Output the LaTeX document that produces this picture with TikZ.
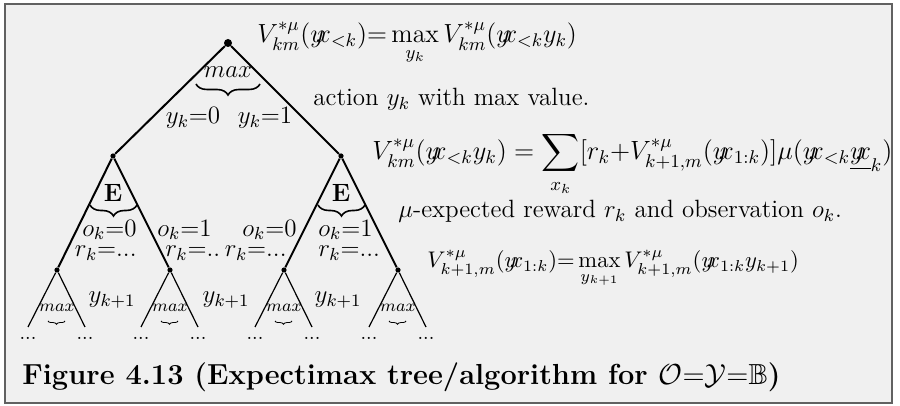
\RequirePackage{fix-cm}
\documentclass[tikz,border=0pt]{standalone}
\usepackage{amsmath,amssymb}
\usetikzlibrary{positioning,decorations.pathreplacing}

\newcommand{\yxhist}{y\mkern-5mu x}
\definecolor{slidebg}{gray}{0.94}
\definecolor{slideframe}{gray}{0.38}

\begin{document}
\begin{tikzpicture}[
    x=0.5pt, y=-0.5pt,
    every node/.style={font=\fontsize{12.5}{14}\selectfont, inner sep=0pt},
    dot/.style={circle, fill, inner sep=0pt, minimum size=2.6pt},
    bigedge/.style={line width=1pt},
    smalledge/.style={line width=0.6pt},
    tinylbl/.style={font=\fontsize{8.5}{9}\selectfont},
    dotslbl/.style={font=\fontsize{10}{11}\selectfont},
    brace/.style={decorate, decoration={brace, mirror, amplitude=5.5pt}, line width=0.8pt},
    smallbrace/.style={decorate, decoration={brace, mirror, amplitude=1.6pt}, line width=0.4pt},
    formula/.style={anchor=base west}
]
    \useasboundingbox (0,0) rectangle (900,406);
    \draw[fill=slidebg, draw=slideframe, line width=1pt] (5,4) rectangle (892,403);

    \node[dot, minimum size=4pt] (root) at (228,43) {};
    \node[dot] (e0) at (113,156) {};
    \node[dot] (e1) at (341,156) {};
    \node[dot] (m00) at (57,270) {};
    \node[dot] (m01) at (170,270) {};
    \node[dot] (m10) at (284,270) {};
    \node[dot] (m11) at (398,270) {};
    \draw[bigedge] (root) -- (e0);
    \draw[bigedge] (root) -- (e1);
    \draw[bigedge] (e0) -- (m00);
    \draw[bigedge] (e0) -- (m01);
    \draw[bigedge] (e1) -- (m10);
    \draw[bigedge] (e1) -- (m11);

    \foreach \m/\x in {m00/57, m01/170, m10/284, m11/398} {
        \coordinate (\m l) at (\x-29,327);
        \coordinate (\m r) at (\x+28,327);
        \draw[smalledge] (\m l) -- (\m) -- (\m r);
        \node[tinylbl] (\m max) at (\x,308) {$max$};
        \draw[smallbrace] (\x-9,321) -- (\x+8,321);
        \node[dotslbl] (\m ldots) at (\x-29,338) {...};
        \node[dotslbl] (\m rdots) at (\x+28,338) {...};
    }

    \node (topmax) at (228,72) {$max$};
    \draw[brace] (196,84) -- (260,84);
    \node (yk0) at (193,118) {$y_k{=}0$};
    \node (yk1) at (265,118) {$y_k{=}1$};

    \node (ebig0) at (113,193) {$\mathbf{E}$};
    \node (ebig1) at (341,193) {$\mathbf{E}$};
    \draw[brace] (90,205) -- (137,205);
    \draw[brace] (318,205) -- (365,205);

    \node[anchor=east] (o00) at (137,230) {$o_k{=}0$};
    \node[anchor=east] (r00) at (137,253) {$r_k{=}...$};
    \node[anchor=west] (o01) at (157,230) {$o_k{=}1$};
    \node[anchor=west] (r01) at (165,253) {$r_k{=}..$};
    \node[anchor=east] (o10) at (297,230) {$o_k{=}0$};
    \node[anchor=east] (r10) at (287,253) {$r_k{=}...$};
    \node[anchor=west] (o11) at (318,230) {$o_k{=}1$};
    \node[anchor=west] (r11) at (318,253) {$r_k{=}...$};

    \node (ynext0) at (112,300) {$y_{k+1}$};
    \node (ynext1) at (226,300) {$y_{k+1}$};
    \node (ynext2) at (338,300) {$y_{k+1}$};

    \node[formula, font=\fontsize{13.1}{15}\selectfont] (vmax) at (257,43)
        {$V^{*\mu}_{km}(\yxhist_{<k}){=}\max\limits_{y_k}V^{*\mu}_{km}(\yxhist_{<k}y_k)$};
    \node[formula] (actiontxt) at (313,106) {action $y_k$ with max value.};
    \node[formula, font=\fontsize{13.2}{15}\selectfont] (vexp) at (372,160)
        {$\displaystyle V^{*\mu}_{km}(\yxhist_{<k}y_k)=\sum_{x_k}[r_k{+}V^{*\mu}_{k+1,m}(\yxhist_{1:k})]\mu(\yxhist_{<k}\underline{\yxhist}_k)$};
    \node[formula] (rewardtxt) at (398,218) {$\mu$-expected reward $r_k$ and observation $o_k$.};
    \node[formula, font=\fontsize{11.3}{13}\selectfont] (vnext) at (427,268)
        {$V^{*\mu}_{k+1,m}(\yxhist_{1:k}){=}\max\limits_{y_{k+1}}V^{*\mu}_{k+1,m}(\yxhist_{1:k}y_{k+1})$};

    \node[formula, font=\fontsize{14.5}{16}\selectfont\bfseries] (caption) at (22,385)
        {Figure 4.13 (Expectimax tree/algorithm for $\mathcal{O}{=}\mathcal{Y}{=}\mathbb{B}$)};
\end{tikzpicture}
\end{document}
